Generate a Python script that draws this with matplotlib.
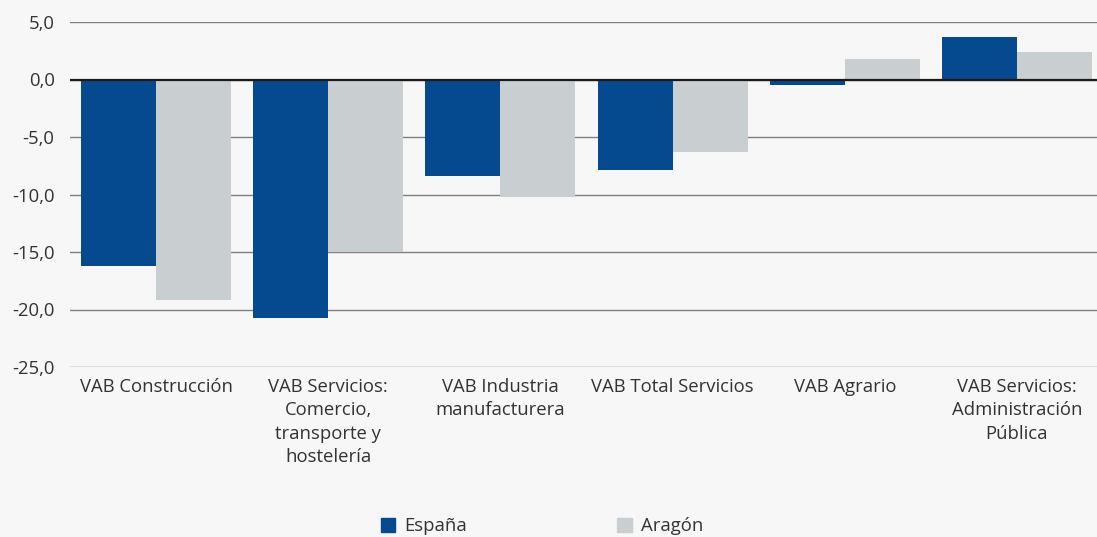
import matplotlib
matplotlib.use("Agg")
import matplotlib.pyplot as plt
from matplotlib.patches import Patch
import numpy as np

categories = ["VAB Construcción",
              "VAB Servicios:\nComercio,\ntransporte y\nhostelería",
              "VAB Industria\nmanufacturera",
              "VAB Total Servicios",
              "VAB Agrario",
              "VAB Servicios:\nAdministración\nPública"]
espana = [-16.2, -20.7, -8.4, -7.9, -0.5, 3.7]
aragon = [-19.2, -15.0, -10.2, -6.3, 1.8, 2.4]
yticks = [5, 0, -5, -10, -15, -20, -25]
ytick_labels = ["5,0", "0,0", "-5,0", "-10,0", "-15,0", "-20,0", "-25,0"]

c_es = "#054A8E"
c_ar = "#C9CED0"
bg = "#F7F7F7"
txt = "#333333"

plt.rcParams['font.family'] = ['Open Sans', 'DejaVu Sans']
fs = 13.3

fig = plt.figure(figsize=(10.97, 5.37), dpi=100, facecolor=bg)
ax = fig.add_axes([70/1097, 170/537, 1033/1097, 345/537], facecolor=bg)

x = np.arange(len(categories))
w = 0.436
ax.bar(x - w/2, espana, width=w, color=c_es, zorder=3, label="España")
ax.bar(x + w/2, aragon, width=w, color=c_ar, zorder=3, label="Aragón")

ax.set_xlim(-0.5, len(categories) - 0.5)
ax.set_ylim(-25, 5)
ax.set_yticks(yticks)
ax.set_yticklabels(ytick_labels)
ax.yaxis.grid(True, color="#7f7f7f", linewidth=1.0, zorder=1)
ax.axhline(0, color="#1a1a1a", linewidth=1.6, zorder=4)
for s in ax.spines.values():
    s.set_visible(False)
ax.tick_params(axis='y', length=0, pad=11, labelsize=fs, labelcolor=txt)
ax.tick_params(axis='x', length=0, pad=8, labelsize=fs, labelcolor=txt)
ax.set_xticks(x)
ax.set_xticklabels(categories, linespacing=1.38)

handles = [Patch(color=c_es, label="España"), Patch(color=c_ar, label="Aragón")]
fig.legend(handles=handles, loc='center', bbox_to_anchor=(542/1097, 1 - 526/537),
           ncol=2, frameon=False, fontsize=fs, handlelength=0.8, handleheight=0.8,
           handletextpad=0.5, columnspacing=8.1, labelcolor=txt)

fig.savefig("out.png", dpi=100, facecolor=bg)
